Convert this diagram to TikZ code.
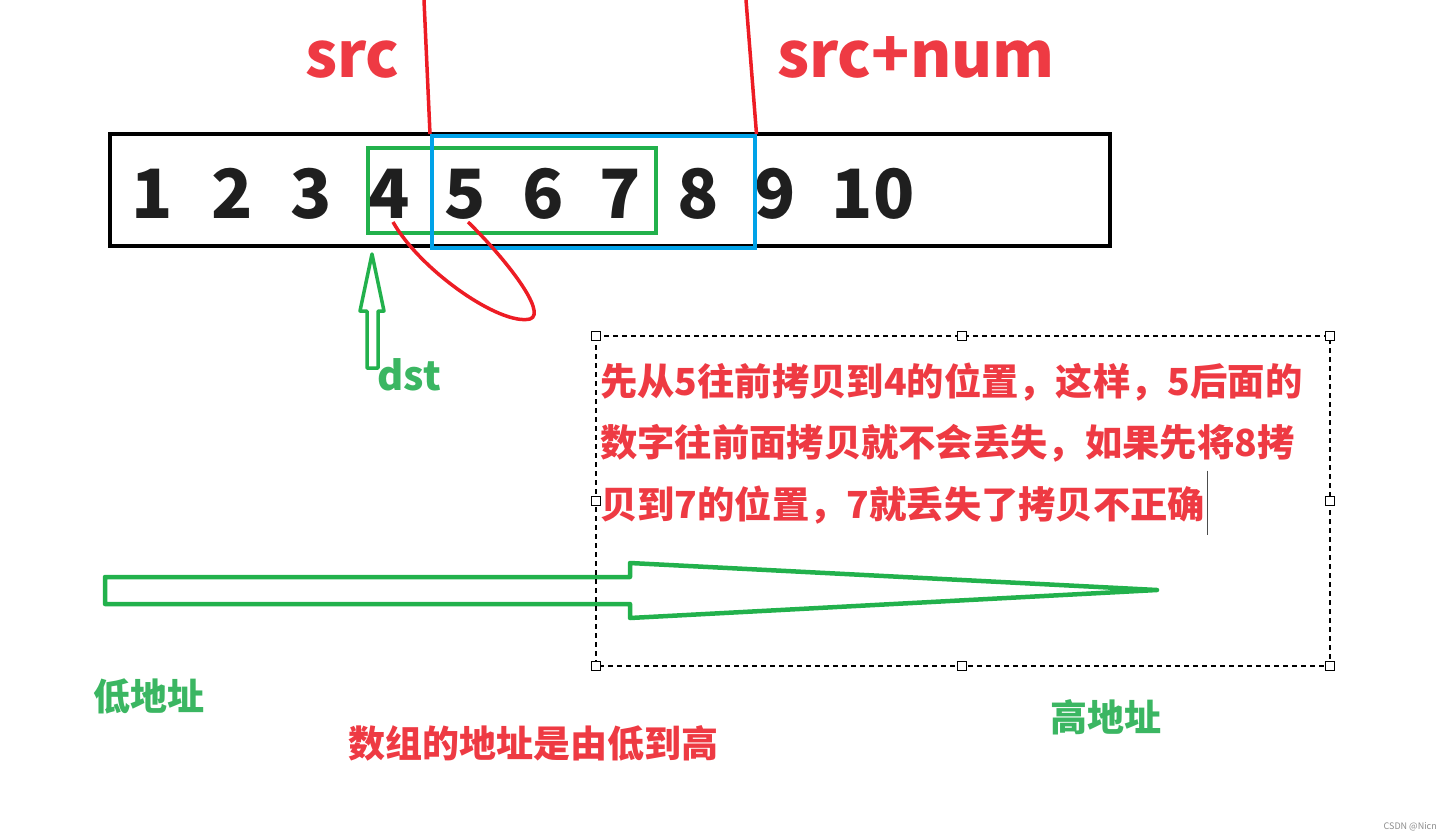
\documentclass[tikz,border=0pt]{standalone}
\usepackage{fontspec}
\setmainfont{Noto Sans CJK SC}
\usepackage{tikz}
\usetikzlibrary{
  calc,        % 坐标计算
  positioning  % 节点相对定位
}
\definecolor{paintred}{RGB}{237,28,36}
\definecolor{textred}{RGB}{238,58,67}
\definecolor{paintgreen}{RGB}{34,177,76}
\definecolor{textgreen}{RGB}{59,182,98}
\definecolor{paintblue}{RGB}{0,162,232}
\tikzset{
  cell num/.style={
    anchor=base,
    inner sep=0pt,
    font=\bfseries\fontsize{68}{68}\selectfont,
    text=black!88
  },
  ptr label/.style={
    anchor=base west,
    inner sep=0pt,
    font=\bfseries\fontsize{63}{63}\selectfont,
    text=textred
  },
  note line/.style={
    anchor=base west,
    inner sep=0pt,
    font=\bfseries\fontsize{37.3}{37.3}\selectfont,
    text=textred
  },
  addr label/.style={
    anchor=base west,
    inner sep=0pt,
    font=\bfseries\fontsize{37}{37}\selectfont
  },
  handle box/.style={
    draw=black,
    fill=white,
    line width=1.2pt,
    inner sep=0pt,
    minimum size=9pt
  }
}

\begin{document}
\begin{tikzpicture}[x=1pt, y=-1pt]
  \useasboundingbox (0,0) rectangle (1452,838);

  % 1. 数组外框与数字
  \draw[black, line width=4pt] (110,134) rectangle (1110,246);
  \foreach \i/\xx in {1/152, 2/232, 3/311, 4/389, 5/465, 6/543, 7/620, 8/698, 9/775, 10/873}
    \node[cell num] (n\i) at (\xx,218) {\i};

  % 2. 绿色框（dst 区间）与蓝色框（src 区间）
  \draw[paintgreen, line width=3.5pt] (368,148) rectangle (656,233);
  \node[draw=paintblue, line width=3.5pt, inner sep=0pt,
        minimum width=323pt, minimum height=112pt, anchor=north west]
        (srcbox) at (430,134) {};

  % 3. 红色指针线与 src 标签
  \coordinate (srctop) at (424,0);
  \coordinate (endtop) at (746,0);
  \draw[paintred, line width=3.5pt] (srctop) -- (srcbox.north west);
  \draw[paintred, line width=3.5pt] (endtop) -- (srcbox.north east);
  \node[ptr label] (src) at (305,77) {src};
  \node[ptr label] (srcnum) at (777,77) {src+num};

  % 4. 红色椭圆弧：5 拷贝到 4
  \coordinate (arcA) at ($(n4.base)+(4,4)$);
  \coordinate (arcB) at ($(n5.base)+(3,4)$);
  \draw[paintred, line width=3.5pt]
    (arcA) .. controls (420,270) and (500,326) .. (530,319)
           .. controls (548,313) and (505,258) .. (arcB);

  % 5. dst 空心箭头
  \draw[paintgreen, line width=3.5pt, line join=round]
    (367,368) -- (367,311) -- (360,311) -- (372,254) -- (384,311)
    -- (378,311) -- (378,368) -- cycle;
  \node[addr label, text=textgreen, font=\bfseries\fontsize{40}{40}\selectfont]
    (dst) at (377,390) {dst};

  % 6. 底部由低到高的大空心箭头
  \draw[paintgreen, line width=4.5pt, line join=round]
    (105,577) -- (630,577) -- (630,563) -- (1157,590)
    -- (630,618) -- (630,604) -- (105,604) -- cycle;

  % 7. 虚线文本框与控制点
  \draw[black, line width=1.3pt, dash pattern=on 5pt off 4pt] (596,336) rectangle (1330,666);
  \foreach \hx/\hy [count=\k] in {596/336, 962/336, 1330/336, 596/501,
                                  1330/501, 596/666, 962/666, 1330/666}
    \node[handle box] (h\k) at (\hx,\hy) {};
  \node[note line] (line1) at (600,395) {先从5往前拷贝到4的位置，这样，5后面的};
  \node[note line] (line2) at (600,456) {数字往前面拷贝就不会丢失，如果先将8拷};
  \node[note line] (line3) at (600,518) {贝到7的位置，7就丢失了拷贝不正确};
  \draw[black!70, line width=1pt] ($(line3.east)+(2,-34)$) -- ($(line3.east)+(2,30)$);

  % 8. 地址说明文字
  \node[addr label, text=textgreen] (low) at (93,710) {低地址};
  \node[addr label, text=textgreen] (high) at (1050,731) {高地址};
  \node[addr label, text=textred] (order) at (348,757) {数组的地址是由低到高};
  \node[anchor=base east, inner sep=0pt, text=black!45,
        font=\fontsize{9}{9}\selectfont] (mark) at (1437,829) {CSDN @Nicn};
\end{tikzpicture}
\end{document}
